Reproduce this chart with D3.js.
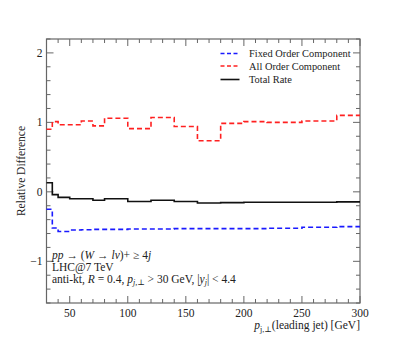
<!DOCTYPE html>
<html><head><meta charset="utf-8">
<script src="https://cdn.jsdelivr.net/npm/d3@7"></script>
<style>body{margin:0;background:#fff}svg{display:block}text{font-family:"Liberation Serif","DejaVu Serif",serif;fill:#222}</style>
</head><body><svg id="c" width="407" height="343"></svg>
<script>
const binEdges = [30,35,40,50,60,70,80,100,120,140,160,180,200,220,250,280,300];
const fixedOrder = [-0.25,-0.52,-0.57,-0.55,-0.545,-0.54,-0.54,-0.535,-0.535,-0.53,-0.53,-0.53,-0.53,-0.525,-0.51,-0.50];
const allOrder = [0.90,1.01,0.965,0.965,1.02,0.95,1.06,0.91,1.07,0.94,0.735,0.985,1.01,1.0,1.02,1.10];
const totalRate = [0.13,-0.04,-0.08,-0.10,-0.10,-0.12,-0.10,-0.14,-0.12,-0.14,-0.16,-0.155,-0.15,-0.15,-0.15,-0.145];
const seriesNames = ["Fixed Order Component","All Order Component","Total Rate"];
const xMajor = [50,100,150,200,250,300];
const yMajor = [-1,0,1,2];

const svg = d3.select("#c");
const L=46.5,R=360,T=39,B=303;
const x = d3.scaleLinear().domain([30,300]).range([L,R]);
const y = d3.scaleLinear().domain([-1.6,2.2]).range([B,T]);
const axisCol="#666";
const FS=11.5;

// frame
svg.append("rect").attr("x",L).attr("y",T).attr("width",R-L).attr("height",B-T)
  .attr("fill","none").attr("stroke",axisCol).attr("stroke-width",1.2);

// ticks
const xMinor = d3.range(30,301,10).filter(v=>!xMajor.includes(v));
const yMinor = d3.range(-1.6,2.21,0.2).map(v=>Math.round(v*10)/10).filter(v=>!yMajor.includes(v));
const tk = svg.append("g").attr("stroke",axisCol).attr("stroke-width",1);
xMajor.forEach(v=>{tk.append("line").attr("x1",x(v)).attr("x2",x(v)).attr("y1",B).attr("y2",B-7);
  tk.append("line").attr("x1",x(v)).attr("x2",x(v)).attr("y1",T).attr("y2",T+7);});
xMinor.forEach(v=>{tk.append("line").attr("x1",x(v)).attr("x2",x(v)).attr("y1",B).attr("y2",B-4);
  tk.append("line").attr("x1",x(v)).attr("x2",x(v)).attr("y1",T).attr("y2",T+4);});
yMajor.forEach(v=>{tk.append("line").attr("y1",y(v)).attr("y2",y(v)).attr("x1",L).attr("x2",L+7);
  tk.append("line").attr("y1",y(v)).attr("y2",y(v)).attr("x1",R).attr("x2",R-7);});
yMinor.forEach(v=>{tk.append("line").attr("y1",y(v)).attr("y2",y(v)).attr("x1",L).attr("x2",L+4);
  tk.append("line").attr("y1",y(v)).attr("y2",y(v)).attr("x1",R).attr("x2",R-4);});

// tick labels
xMajor.forEach(v=>svg.append("text").attr("x",x(v)).attr("y",B+14).attr("text-anchor","middle")
  .attr("font-size",FS).text(v));
yMajor.forEach(v=>svg.append("text").attr("x",L-4).attr("y",y(v)+4).attr("text-anchor","end")
  .attr("font-size",FS).text(v<0?"\u2212"+Math.abs(v):v));

// axis titles
svg.append("text").attr("transform",`translate(25,${(T+B)/2}) rotate(-90)`).attr("text-anchor","middle")
  .attr("font-size",FS).text("Relative Difference");
const xt = svg.append("text").attr("x",R).attr("y",B+26).attr("text-anchor","end").attr("font-size",FS);
xt.append("tspan").attr("font-style","italic").text("p");
xt.append("tspan").attr("font-size",8).attr("dy",2.5).text("j,\u22a5");
xt.append("tspan").attr("dy",-2.5).text("(leading jet) [GeV]");

// data lines
function pts(vals){const p=vals.map((v,i)=>[binEdges[i],v]);p.push([binEdges[binEdges.length-1],vals[vals.length-1]]);return p;}
const line = d3.line().x(d=>x(d[0])).y(d=>y(d[1])).curve(d3.curveStepAfter);
const styles=[{c:"#1a1aff",d:"5,3",w:1.6},{c:"#ff2020",d:"5,3",w:1.6},{c:"#111",d:null,w:1.6}];
[fixedOrder,allOrder,totalRate].forEach((s,i)=>{
  svg.append("path").attr("d",line(pts(s))).attr("fill","none").attr("stroke",styles[i].c)
    .attr("stroke-width",styles[i].w).attr("stroke-dasharray",styles[i].d);
});

// legend
seriesNames.forEach((n,i)=>{
  const yy=[53.5,66,79.5][i];
  svg.append("line").attr("x1",220.5).attr("x2",239.5).attr("y1",yy).attr("y2",yy)
    .attr("stroke",styles[i].c).attr("stroke-width",styles[i].w).attr("stroke-dasharray",styles[i].d?"4,2.5":null);
  svg.append("text").attr("x",249).attr("y",yy+3.5).attr("font-size",10.4).text(n);
});

// annotations
const ax=52;
const a1 = svg.append("text").attr("x",ax).attr("y",259).attr("font-size",FS);
a1.append("tspan").attr("font-style","italic").text("pp");
a1.append("tspan").text(" \u2192 (");
a1.append("tspan").attr("font-style","italic").text("W");
a1.append("tspan").text(" \u2192 ");
a1.append("tspan").attr("font-style","italic").text("l\u03bd");
a1.append("tspan").text(")+ \u2265 4");
a1.append("tspan").attr("font-style","italic").text("j");
svg.append("text").attr("x",ax).attr("y",270.5).attr("font-size",FS).text("LHC@7 TeV");
const a3 = svg.append("text").attr("x",ax).attr("y",282.5).attr("font-size",FS);
a3.append("tspan").text("anti-kt, ");
a3.append("tspan").attr("font-style","italic").text("R");
a3.append("tspan").text(" = 0.4, ");
a3.append("tspan").attr("font-style","italic").text("p");
a3.append("tspan").attr("font-size",8).attr("dy",2.5).attr("font-style","italic").text("j,\u22a5");
a3.append("tspan").attr("dy",-2.5).text(" > 30 GeV, |");
a3.append("tspan").attr("font-style","italic").text("y");
a3.append("tspan").attr("font-size",8).attr("dy",2.5).attr("font-style","italic").text("j");
a3.append("tspan").attr("dy",-2.5).text("| < 4.4");
</script></body></html>
